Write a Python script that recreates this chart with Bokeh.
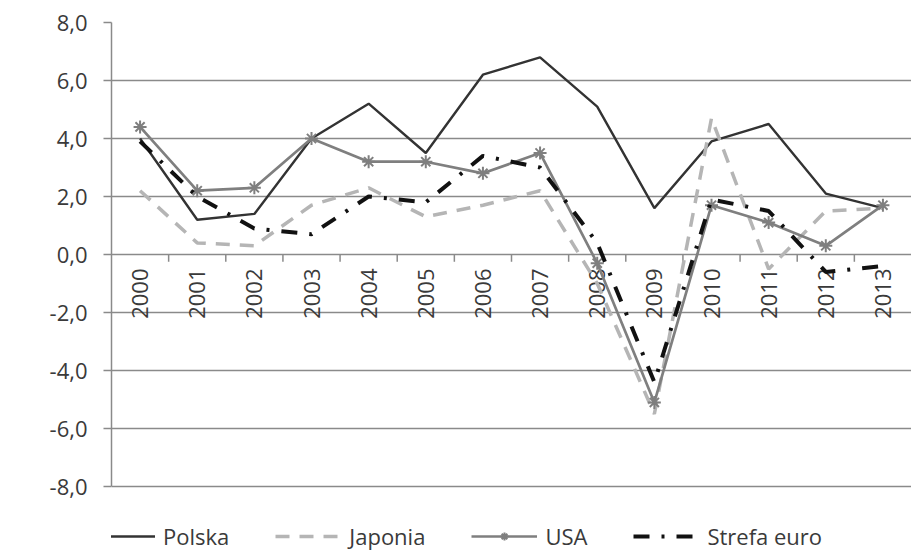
import math
from bokeh.plotting import figure
from bokeh.models import (ColumnDataSource, Range1d, CustomJSTickFormatter, FixedTicker,
                          Legend, LegendItem)
from bokeh.core.properties import value
from bokeh.embed import file_html
from bokeh.resources import INLINE

years = ["2000", "2001", "2002", "2003", "2004", "2005", "2006",
         "2007", "2008", "2009", "2010", "2011", "2012", "2013"]
polska = [4.0, 1.2, 1.4, 4.0, 5.2, 3.5, 6.2, 6.8, 5.1, 1.6, 3.9, 4.5, 2.1, 1.6]
japonia = [2.2, 0.4, 0.3, 1.7, 2.3, 1.3, 1.7, 2.2, -1.0, -5.5, 4.7, -0.5, 1.5, 1.6]
usa = [4.4, 2.2, 2.3, 4.0, 3.2, 3.2, 2.8, 3.5, -0.3, -5.1, 1.7, 1.1, 0.3, 1.7]
strefa_euro = [3.9, 2.0, 0.9, 0.7, 2.0, 1.8, 3.4, 3.0, 0.4, -4.4, 1.9, 1.5, -0.6, -0.4]
y_ticks = [-8, -6, -4, -2, 0, 2, 4, 6, 8]

FONT = "Open Sans"
TXT = "#3a3a3a"

xs = list(range(len(years)))

# frame extends below -8 to leave room for the legend inside it
p = figure(frame_width=800, frame_height=529, output_backend="svg", toolbar_location=None,
           x_range=Range1d(-0.5, len(years) - 0.5), y_range=Range1d(-10.24, 8),
           x_axis_location=None,
           min_border_left=111, min_border_right=0, min_border_top=22,
           min_border_bottom=0)
p.outline_line_color = None
p.background_fill_color = "white"
p.border_fill_color = "white"

# axes
p.xgrid.visible = False
p.yaxis.bounds = (-8, 8)
p.yaxis.ticker = FixedTicker(ticks=y_ticks)
p.ygrid.ticker = FixedTicker(ticks=y_ticks)
p.yaxis.formatter = CustomJSTickFormatter(code="return tick.toFixed(1).replace('.', ',');")
p.yaxis.major_label_text_font = FONT
p.yaxis.major_label_text_font_size = "22px"
p.yaxis.major_label_text_color = TXT
p.yaxis.major_tick_in = 0
p.yaxis.major_tick_out = 8
p.yaxis.minor_tick_line_color = None
p.yaxis.axis_line_color = "#8a8a8a"
p.yaxis.axis_line_width = 1.5
p.yaxis.major_tick_line_color = "#8a8a8a"
p.yaxis.major_tick_line_width = 1.5
p.yaxis.major_label_standoff = 16
p.yaxis.axis_label = ""
p.ygrid.grid_line_color = "#8a8a8a"
p.ygrid.grid_line_width = 1.5

# "%" unit label at the zero line, left of tick labels
p.text(x=[-0.5], y=[0], text=["%"], x_offset=-93, text_align="left",
       text_baseline="middle", text_font=value(FONT), text_font_size="22px",
       text_color=TXT)

# category tick marks on the zero line
bounds = [i + 0.5 for i in range(len(years) - 1)]
p.segment(x0=bounds, x1=bounds, y0=[0] * len(bounds), y1=[-0.25] * len(bounds),
          line_color="#8a8a8a", line_width=1.5)

# category labels (rotated) below the zero line
lab = ColumnDataSource(dict(x=xs, y=[0] * len(xs), t=years))
p.text(x="x", y="y", text="t", source=lab, angle=math.pi / 2,
       text_align="right", text_baseline="middle", y_offset=14,
       text_font=value(FONT), text_font_size="22px", text_color=TXT)

# series
r_pl = p.line(xs, polska, line_color="#333333", line_width=2.4)
r_jp = p.line(xs, japonia, line_color="#b5b5b5", line_width=3.5, line_dash="14 10")
r_us = p.line(xs, usa, line_color="#7f7f7f", line_width=2.7)
r_usm = p.scatter(xs, usa, marker="asterisk", size=13, line_color="#7f7f7f", line_width=2)
r_eu = p.line(xs, strefa_euro, line_color="#111111", line_width=4, line_dash="16 12 3 12")

legend = Legend(items=[
    LegendItem(label="Polska", renderers=[r_pl]),
    LegendItem(label="Japonia", renderers=[r_jp]),
    LegendItem(label="USA", renderers=[r_us, r_usm]),
    LegendItem(label="Strefa euro", renderers=[r_eu]),
], orientation="horizontal", location=(-22, 0))
legend.label_text_font = FONT
legend.label_text_font_size = "22px"
legend.label_text_color = TXT
legend.glyph_width = 66
legend.glyph_height = 20
legend.label_standoff = 8
legend.spacing = 46
legend.padding = 0
legend.margin = 0
legend.border_line_color = None
legend.background_fill_alpha = 0
p.add_layout(legend, "center")

open("out.html", "w").write(file_html(p, INLINE))
